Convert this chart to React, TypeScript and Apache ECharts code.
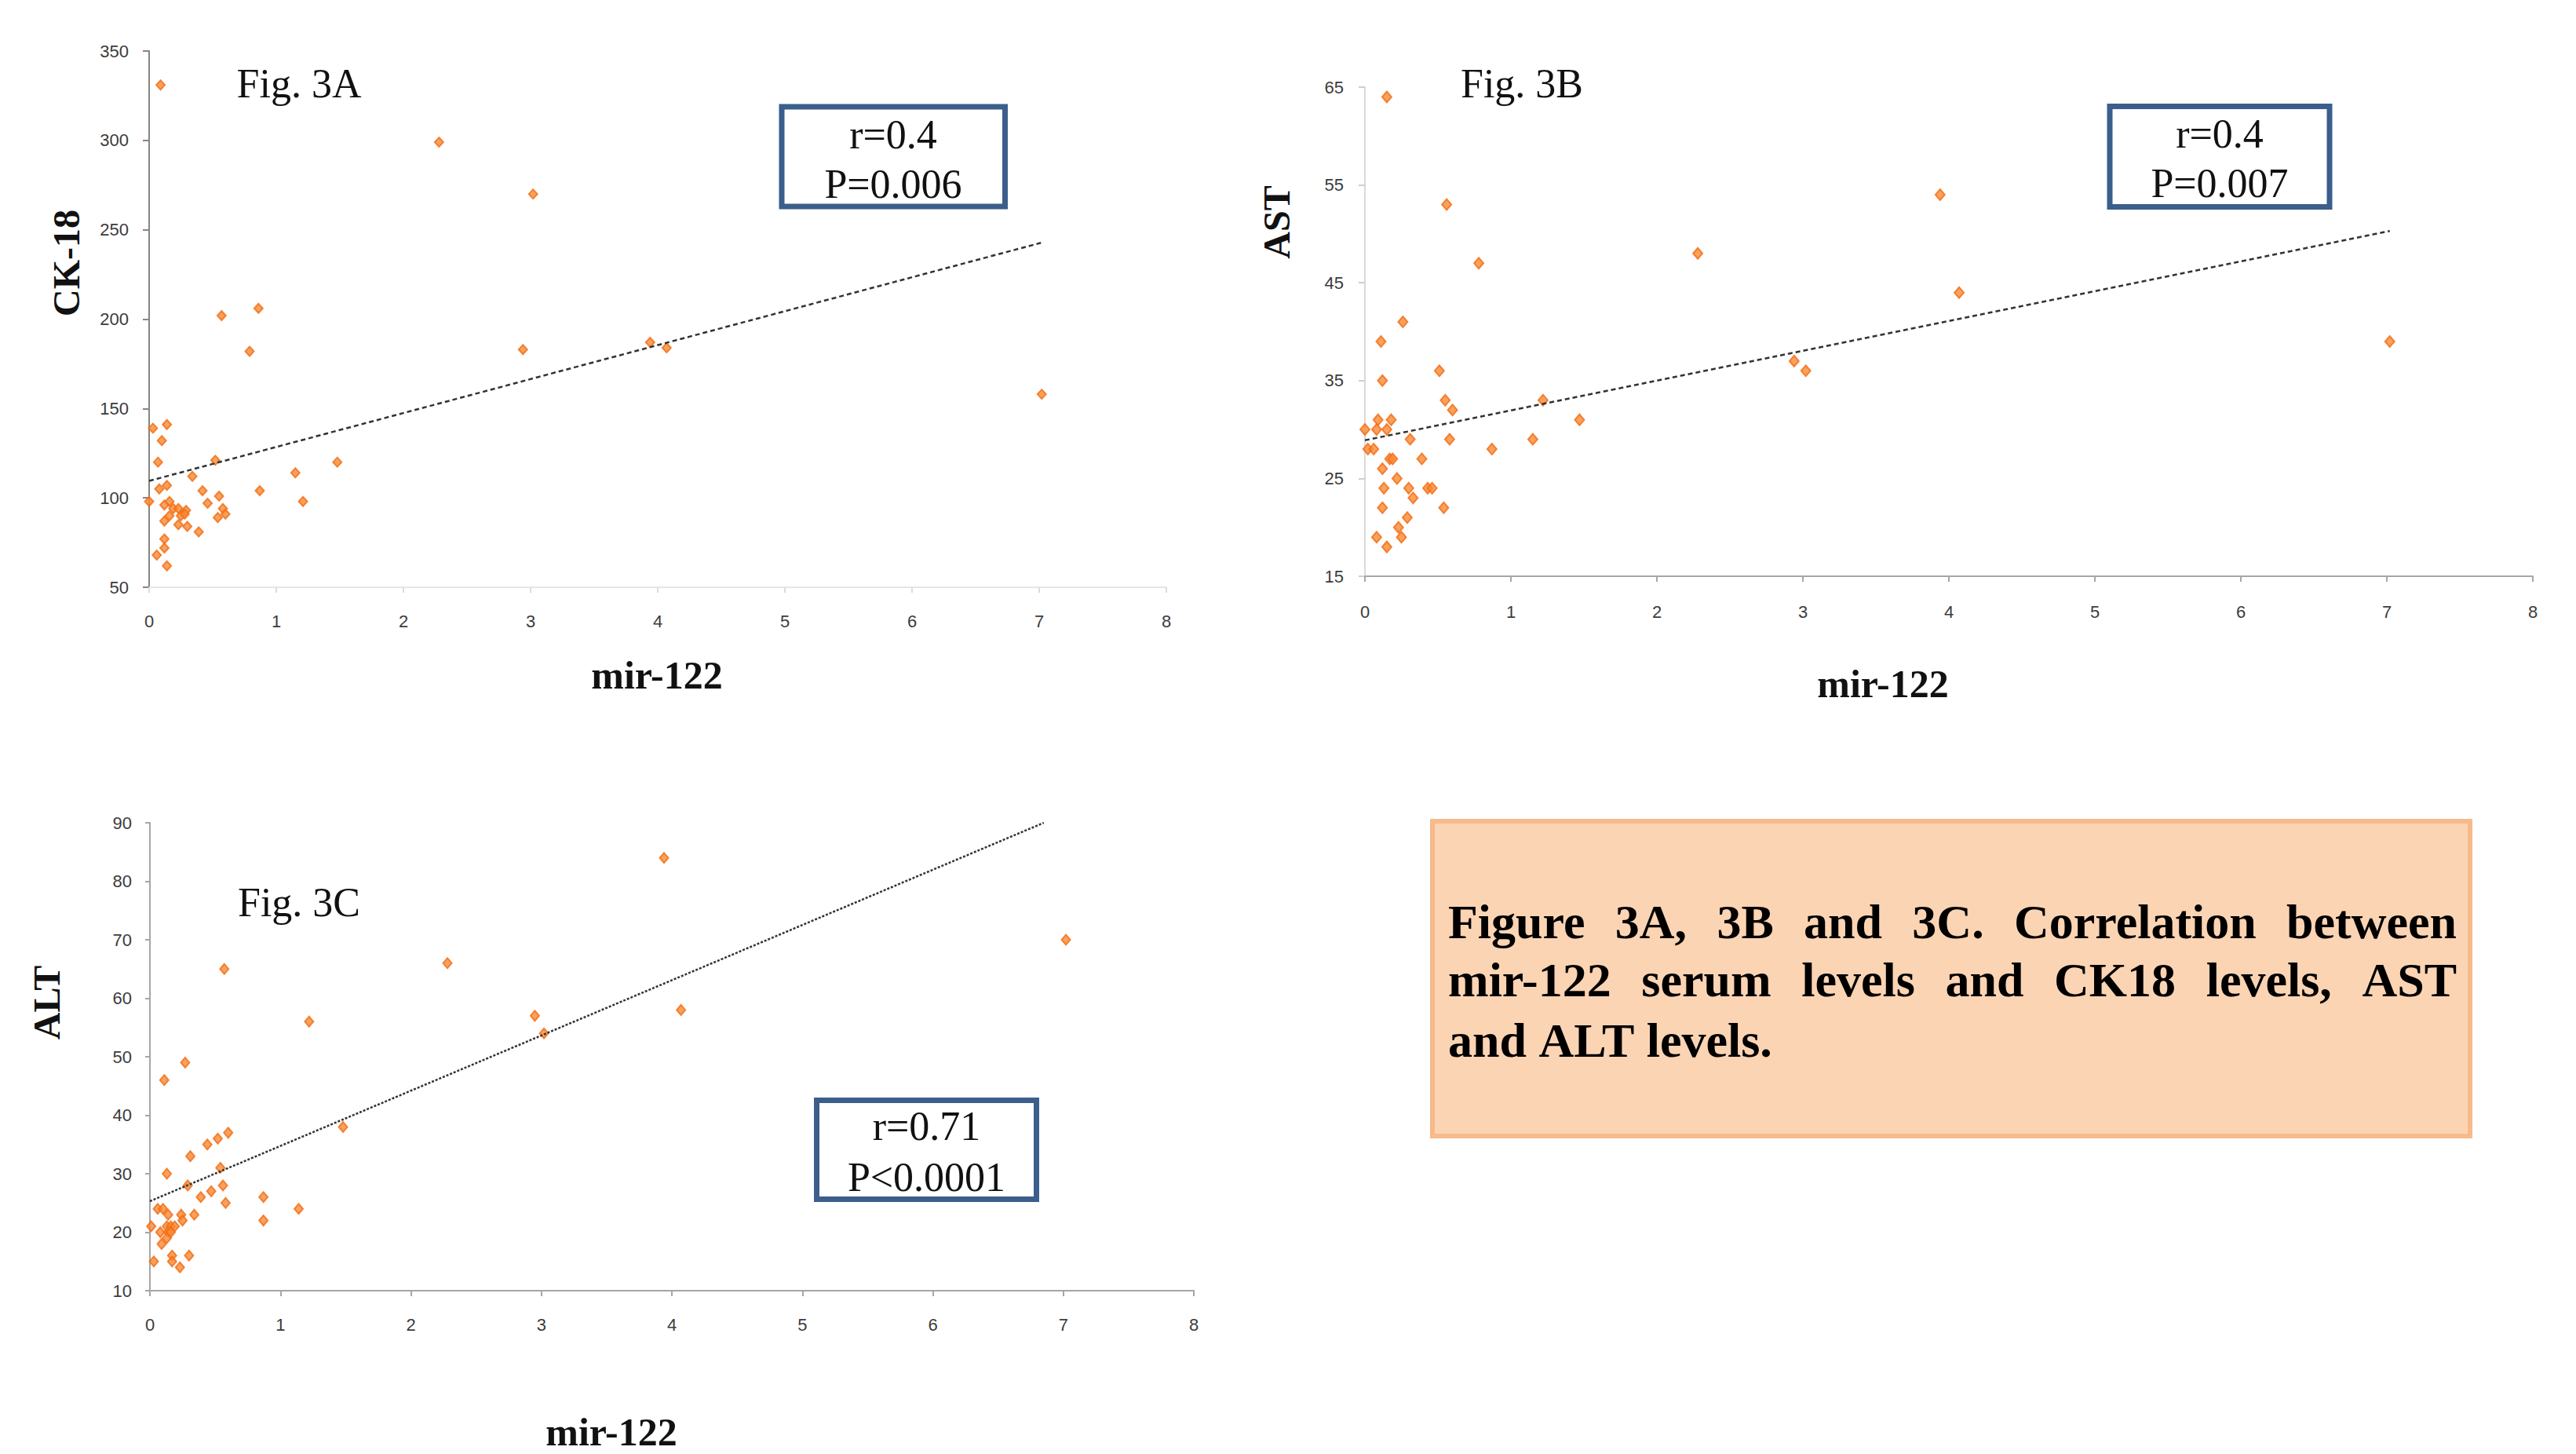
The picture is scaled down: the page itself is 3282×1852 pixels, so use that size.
import React, { useEffect, useRef } from 'react';
import * as echarts from 'echarts';

// ---------- data ----------
const xTicks = [0, 1, 2, 3, 4, 5, 6, 7, 8];
const ck18Ticks = [50, 100, 150, 200, 250, 300, 350];
const astTicks = [15, 25, 35, 45, 55, 65];
const altTicks = [10, 20, 30, 40, 50, 60, 70, 80, 90];

// Fig. 3A : mir-122 vs CK-18
const ck18Points: [number, number][] = [
  [0.09, 331], [2.28, 299], [3.02, 270], [0.57, 202], [0.86, 206], [0.79, 182], [2.94, 183],
  [3.94, 187], [4.07, 184], [7.02, 158], [0.03, 139], [0.14, 141], [0.10, 132], [0.07, 120],
  [0.52, 121], [1.48, 120], [1.15, 114], [0.34, 112], [0.14, 107], [0.08, 105], [0.42, 104],
  [0.87, 104], [0.55, 101], [0.0, 98], [0.16, 98], [0.12, 96], [0.46, 97], [1.21, 98],
  [0.19, 94], [0.23, 94], [0.29, 93], [0.58, 94], [0.60, 91], [0.25, 90], [0.28, 91],
  [0.16, 90], [0.12, 87], [0.54, 89], [0.23, 85], [0.30, 84], [0.39, 81], [0.12, 77],
  [0.12, 72], [0.06, 68], [0.14, 62],
];
const ck18Trend: [number, number][] = [[0, 109.5], [7.03, 243]];

// Fig. 3B : mir-122 vs AST
const astPoints: [number, number][] = [
  [0.15, 64], [0.56, 53], [0.78, 47], [2.28, 48], [3.94, 54], [4.07, 44], [7.02, 39],
  [2.94, 37], [3.02, 36], [0.26, 41], [0.11, 39], [0.12, 35], [0.51, 36], [0.55, 33],
  [0.60, 32], [1.22, 33], [1.47, 31], [0.09, 31], [0.18, 31], [0.0, 30], [0.08, 30],
  [0.15, 30], [0.31, 29], [0.58, 29], [1.15, 29], [0.02, 28], [0.06, 28], [0.87, 28],
  [0.17, 27], [0.19, 27], [0.39, 27], [0.12, 26], [0.22, 25], [0.13, 24], [0.30, 24],
  [0.43, 24], [0.46, 24], [0.33, 23], [0.12, 22], [0.54, 22], [0.29, 21], [0.23, 20],
  [0.08, 19], [0.25, 19], [0.15, 18],
];
const astTrend: [number, number][] = [[0, 28.9], [7.02, 50.3]];

// Fig. 3C : mir-122 vs ALT
const altPoints: [number, number][] = [
  [0.57, 65], [2.28, 66], [3.94, 84], [7.02, 70], [2.95, 57], [4.07, 58], [3.02, 54],
  [1.22, 56], [0.27, 49], [0.11, 46], [1.48, 38], [0.60, 37], [0.52, 36], [0.44, 35],
  [0.31, 33], [0.54, 31], [0.13, 30], [0.29, 28], [0.56, 28], [0.47, 27], [0.39, 26],
  [0.87, 26], [0.58, 25], [0.06, 24], [0.10, 24], [1.14, 24], [0.14, 23], [0.24, 23],
  [0.34, 23], [0.25, 22], [0.87, 22], [0.01, 21], [0.13, 21], [0.16, 21], [0.19, 21],
  [0.08, 20], [0.14, 20], [0.16, 20], [0.13, 19], [0.09, 18], [0.30, 16], [0.17, 16],
  [0.03, 15], [0.17, 15], [0.23, 14],
];
const altTrend: [number, number][] = [[0, 25.3], [6.85, 90]];

const statsA = ['r=0.4', 'P=0.006'];
const statsB = ['r=0.4', 'P=0.007'];
const statsC = ['r=0.71', 'P<0.0001'];
const captionLines = [
  'Figure 3A, 3B and 3C. Correlation between',
  'mir-122 serum levels and CK18 levels, AST',
  'and ALT levels.',
];

// ---------- styling ----------
const SERIF = '"Liberation Serif", "Times New Roman", serif';
const SANS = '"Liberation Sans", Arial, sans-serif';
const LABEL_COLOR = '#3c3c3c';
const BOX_BLUE = '#3B5E8C';

function xAxis(gridIndex: number, lineColor: string, tickColor: string, margin: number) {
  return {
    type: 'value', gridIndex, min: 0, max: 8, interval: 1,
    axisLine: { show: true, onZero: false, lineStyle: { color: lineColor, width: 2 } },
    axisTick: { show: true, length: 7, customValues: xTicks, lineStyle: { color: tickColor, width: 2 } },
    axisLabel: { customValues: xTicks, margin, fontFamily: SANS, fontSize: 22, color: LABEL_COLOR },
    splitLine: { show: false },
  };
}

function yAxis(gridIndex: number, min: number, max: number, ticks: number[], lineColor: string,
  tickColor: string, margin: number, tickLen: number) {
  return {
    type: 'value', gridIndex, min, max,
    axisLine: { show: true, onZero: false, lineStyle: { color: lineColor, width: 2 } },
    axisTick: { show: true, length: tickLen, customValues: ticks, lineStyle: { color: tickColor, width: 2 } },
    axisLabel: { customValues: ticks, margin, fontFamily: SANS, fontSize: 22, color: LABEL_COLOR },
    splitLine: { show: false },
  };
}

function scatter(idx: number, data: [number, number][], size: number[]) {
  return {
    type: 'scatter', xAxisIndex: idx, yAxisIndex: idx, data,
    symbol: 'diamond', symbolSize: size,
    itemStyle: { color: '#F88A35', borderColor: '#F26B12', borderWidth: 2 },
    z: 3,
  };
}

function trend(idx: number, data: [number, number][], dash: number[], width: number) {
  return {
    type: 'line', xAxisIndex: idx, yAxisIndex: idx, data,
    showSymbol: false, symbol: 'none', silent: true,
    lineStyle: { color: '#333333', width, type: dash },
    z: 4,
  };
}

function statBox(x: number, y: number, w: number, h: number, lines: string[], cy: number[], cx: number) {
  const els: any[] = [
    { type: 'rect', shape: { x, y, width: w, height: h }, style: { fill: '#ffffff', stroke: BOX_BLUE, lineWidth: 7 } },
  ];
  lines.forEach((t, i) => {
    els.push({
      type: 'text', x: cx, y: cy[i],
      style: { text: t, fontFamily: SERIF, fontSize: 52, fill: '#111', align: 'center', verticalAlign: 'middle' },
    });
  });
  return els;
}

function plainText(text: string, x: number, y: number, size: number, bold: boolean, rotate = false) {
  return {
    type: 'text', x, y, rotation: rotate ? Math.PI / 2 : 0,
    style: {
      text, fontFamily: SERIF, fontSize: size, fontWeight: bold ? 'bold' : 'normal',
      fill: '#111', align: 'center', verticalAlign: 'middle',
    },
  };
}

function captionElements() {
  const size = 62;
  const left = 1845;
  const right = 3130;
  const ys = [1174, 1248, 1325];
  const font = `bold ${size}px "Liberation Serif"`;
  const canvas = document.createElement('canvas');
  const ctx = canvas.getContext('2d')!;
  ctx.font = font;
  const els: any[] = [];
  captionLines.forEach((line, li) => {
    const words = line.split(' ');
    const widths = words.map((w) => ctx.measureText(w).width);
    const isLast = li === captionLines.length - 1;
    const total = widths.reduce((a, b) => a + b, 0);
    const space = ctx.measureText(' ').width;
    const gap = isLast ? space : (right - left - total) / (words.length - 1);
    let x = left;
    words.forEach((w, wi) => {
      els.push({
        type: 'text', x, y: ys[li],
        style: { text: w, fontFamily: SERIF, fontSize: size, fontWeight: 'bold', fill: '#000', align: 'left', verticalAlign: 'middle' },
      });
      x += widths[wi] + gap;
    });
  });
  return els;
}

export default function App() {
  const ref = useRef<HTMLDivElement>(null);

  useEffect(() => {
    document.body.style.margin = '0';
    if (!ref.current) return;
    const chart = echarts.init(ref.current, undefined, { renderer: 'svg' });

    const option: any = {
      animation: false,
      backgroundColor: '#ffffff',
      grid: [
        { left: 190, top: 65, width: 1296, height: 683, containLabel: false, outerBoundsMode: 'none' },
        { left: 1739, top: 111, width: 1488, height: 623, containLabel: false, outerBoundsMode: 'none' },
        { left: 191, top: 1048, width: 1330, height: 596, containLabel: false, outerBoundsMode: 'none' },
      ],
      xAxis: [
        xAxis(0, '#e6e6e6', '#dcdcdc', 32),
        xAxis(1, '#a6a6a6', '#a6a6a6', 34),
        xAxis(2, '#a6a6a6', '#a6a6a6', 32),
      ],
      yAxis: [
        yAxis(0, 50, 350, ck18Ticks, '#858585', '#858585', 26, 8),
        yAxis(1, 15, 65, astTicks, '#dadada', '#cfcfcf', 27, 8),
        yAxis(2, 10, 90, altTicks, '#a6a6a6', '#a6a6a6', 23, 6),
      ],
      series: [
        scatter(0, ck18Points, [11, 12]),
        trend(0, ck18Trend, [6, 4], 2.5),
        scatter(1, astPoints, [12, 14]),
        trend(1, astTrend, [6, 4], 2.5),
        scatter(2, altPoints, [11, 13]),
        trend(2, altTrend, [3, 2], 2.5),
      ],
      graphic: [
        plainText('Fig. 3A', 381, 106, 52, false),
        plainText('Fig. 3B', 1939, 106, 52, false),
        plainText('Fig. 3C', 381, 1149, 52, false),
        plainText('mir-122', 837, 860, 50, true),
        plainText('mir-122', 2399, 871, 50, true),
        plainText('mir-122', 779, 1824, 50, true),
        plainText('CK-18', 84, 335, 48, true, true),
        plainText('AST', 1626, 283, 48, true, true),
        plainText('ALT', 59, 1277, 48, true, true),
        ...statBox(996, 136, 284.5, 127, statsA, [171.5, 234.8], 1138),
        ...statBox(2688, 135.5, 280, 128, statsB, [170, 233], 2828),
        ...statBox(1040.5, 1401.5, 280, 126, statsC, [1434, 1499], 1180.5),
        {
          type: 'rect', shape: { x: 1825, y: 1046, width: 1322, height: 401 },
          style: { fill: '#FBD4B4', stroke: '#F7BA8B', lineWidth: 6 },
        },
        ...captionElements(),
      ],
    };
    chart.setOption(option);
    return () => chart.dispose();
  }, []);

  return (
    <div
      ref={ref}
      style={{ position: 'absolute', left: 0, top: 0, width: 3282, height: 1852, background: '#fff' }}
    />
  );
}
